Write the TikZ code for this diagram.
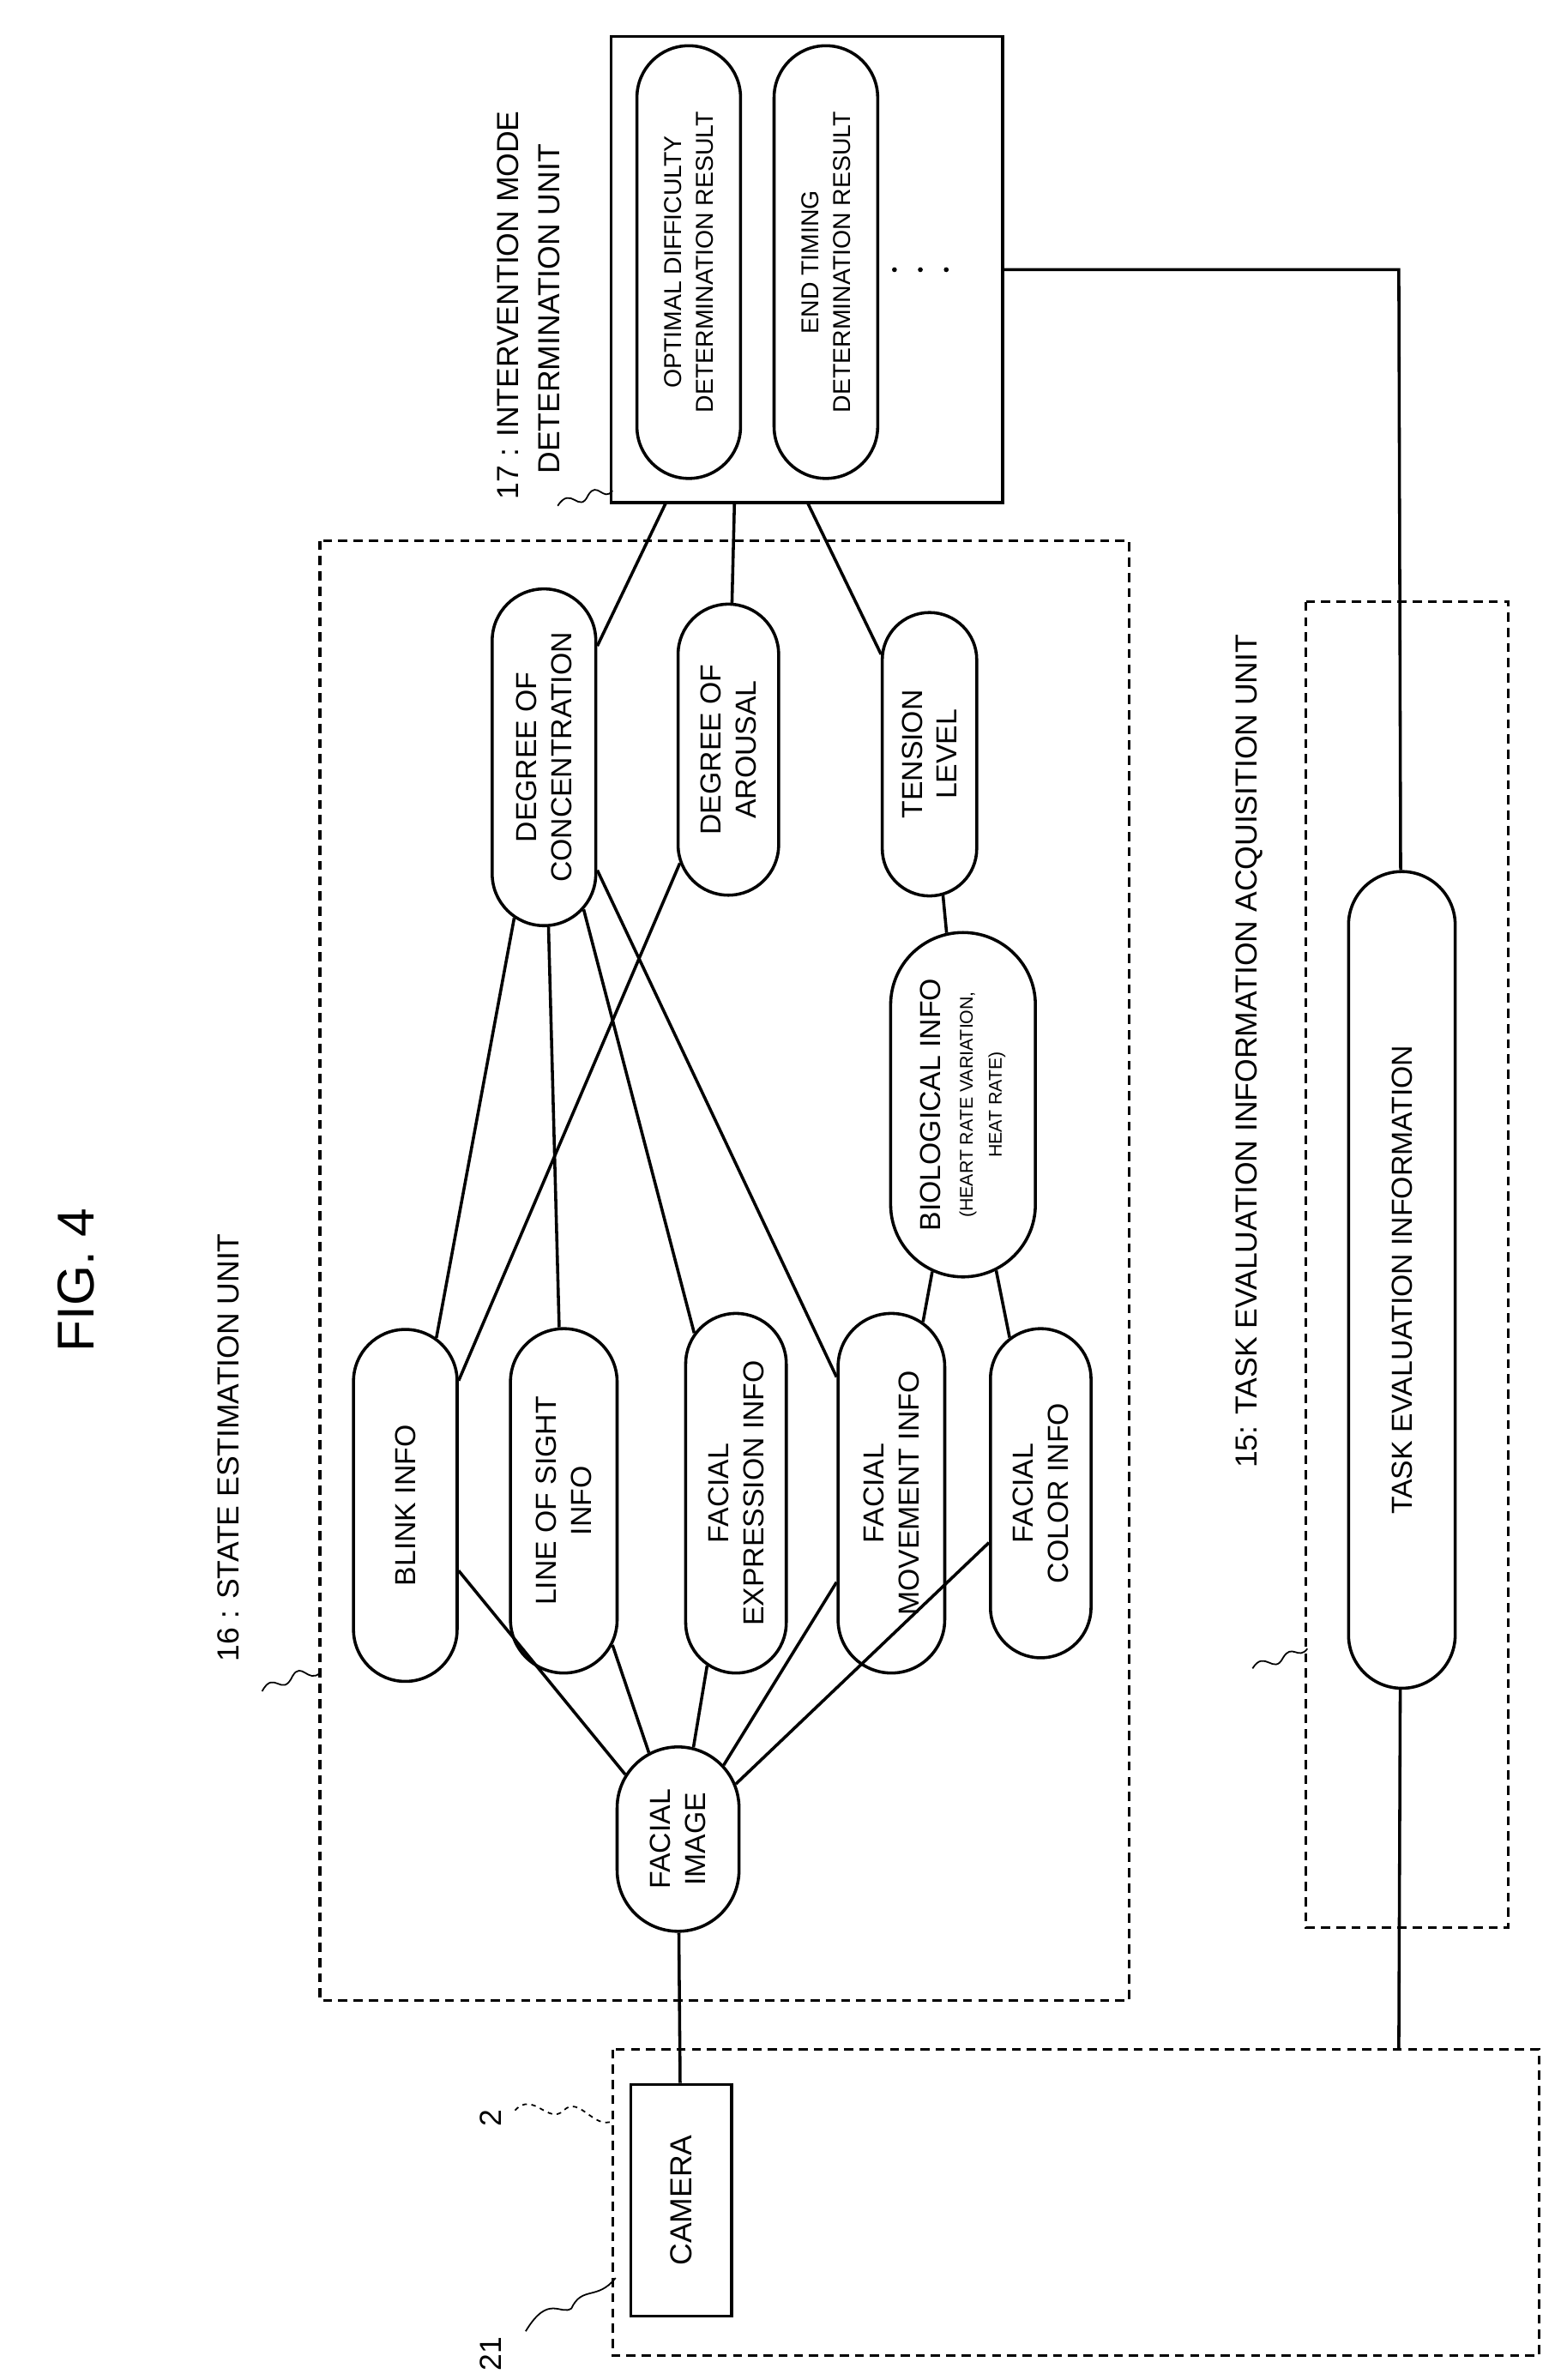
\documentclass[tikz,border=0pt]{standalone}
\usepackage{fontspec}
\setmainfont{Liberation Sans}
\usetikzlibrary{shapes.misc}
\begin{document}
\begin{tikzpicture}[x=1pt,y=-1pt,line width=2pt,
  st/.style={draw,rounded rectangle,rotate=90,align=center,font=\fontsize{19}{23}\selectfont,inner sep=2pt},
  box/.style={draw,rectangle,inner sep=0pt},
  dbox/.style={draw,dash pattern=on 6pt off 4pt,line width=1.8pt},
  lab/.style={rotate=90,font=\fontsize{20}{27}\selectfont,align=left},
  sq/.style={line width=1pt}]
\useasboundingbox (0,0) rectangle (1024,1562);
% labels
\node[lab,font=\fontsize{34}{38}\selectfont] (fig) at (50,840) {FIG. 4};
\node[lab] (l16) at (150,950) {16 : STATE ESTIMATION UNIT};
\node[lab,anchor=south west] (l17) at (372,332) {17 : INTERVENTION MODE\\\ \ \ DETERMINATION UNIT};
\node[lab] (l15) at (820,690) {15: TASK EVALUATION INFORMATION ACQUISITION UNIT};
\node[lab] (l2) at (322,1390) {2};
\node[lab] (l21) at (322,1545) {21};
% squiggles
\draw[sq] (172,1110) .. controls (180,1095) and (185,1115) .. (192,1100) .. controls (198,1090) and (202,1105) .. (210,1098);
\draw[sq] (366,332) .. controls (375,318) and (380,338) .. (386,325) .. controls (392,315) and (396,330) .. (402,322);
\draw[sq] (822,1095) .. controls (830,1082) and (836,1100) .. (842,1088) .. controls (848,1078) and (852,1090) .. (858,1082);
\draw[sq,dash pattern=on 3pt off 3pt] (338,1385) .. controls (350,1372) and (360,1395) .. (370,1385) .. controls (380,1375) and (390,1398) .. (402,1392);
\draw[sq] (345,1530) .. controls (360,1505) and (368,1520) .. (375,1515) .. controls (382,1500) and (392,1510) .. (404,1495);
% boxes
\draw[dbox] (210,355) rectangle (741,1313);
\draw[dbox] (857,395) rectangle (990,1265);
\draw[dbox] (402,1345) rectangle (1010,1546);
\node[box,minimum width=257pt,minimum height=306pt] (int) at (529.5,177) {};
\node[box,rotate=90,minimum width=152pt,minimum height=66pt,font=\fontsize{20}{24}\selectfont] (cam) at (447,1444) {CAMERA};
% intervention contents
\node[st,minimum width=288pt,minimum height=68pt,font=\fontsize{16}{21}\selectfont] (opt) at (452,172) {OPTIMAL DIFFICULTY\\DETERMINATION RESULT};
\node[st,minimum width=288pt,minimum height=68pt,font=\fontsize{16}{21}\selectfont] (end) at (542,172) {END TIMING\\DETERMINATION RESULT};
\fill (587,177) circle (1.6pt) (604,177) circle (1.6pt) (621,177) circle (1.6pt);
% nodes
\node[st,minimum width=125pt,minimum height=80pt] (face) at (445,1207) {FACIAL\\IMAGE};
\node[st,minimum width=235pt,minimum height=68pt] (blink) at (266,988) {BLINK INFO};
\node[st,minimum width=230pt,minimum height=70pt] (los) at (370,985) {LINE OF SIGHT\\INFO};
\node[st,minimum width=240pt,minimum height=66pt] (fexp) at (483,980) {FACIAL\\EXPRESSION INFO};
\node[st,minimum width=240pt,minimum height=70pt] (fmov) at (585,980) {FACIAL\\MOVEMENT INFO};
\node[st,minimum width=220pt,minimum height=66pt] (fcol) at (683,980) {FACIAL\\COLOR INFO};
\node[st,minimum width=230pt,minimum height=95pt] (bio) at (632,725) {BIOLOGICAL INFO\\[-2pt]{\fontsize{12}{15}\selectfont (HEART RATE VARIATION,}\\[-4pt]{\fontsize{12}{15}\selectfont HEAT RATE)}};
\node[st,minimum width=225pt,minimum height=68pt] (conc) at (357,497) {DEGREE OF\\CONCENTRATION};
\node[st,minimum width=195pt,minimum height=66pt] (arou) at (478,492) {DEGREE OF\\AROUSAL};
\node[st,minimum width=190pt,minimum height=62pt] (tens) at (610,495) {TENSION\\LEVEL};
\node[st,minimum width=540pt,minimum height=70pt] (task) at (920,840) {TASK EVALUATION INFORMATION};
% coordinates
\coordinate (i1) at (437,330);
\coordinate (i2) at (482,330);
\coordinate (i3) at (530,330);
\coordinate (ir) at (658,177);
\coordinate (c1) at (918,177);
\coordinate (c2) at (918,1345);
% connectors
\draw (face) -- (blink); \draw (face) -- (los); \draw (face) -- (fexp);
\draw (face) -- (fmov); \draw (face) -- (fcol);
\draw (face) -- (cam);
\draw (blink) -- (conc); \draw (los) -- (conc); \draw (fexp) -- (conc); \draw (fmov) -- (conc);
\draw (blink) -- (arou);
\draw (fmov) -- (bio); \draw (fcol) -- (bio); \draw (bio) -- (tens);
\draw (conc) -- (i1); \draw (arou) -- (i2); \draw (tens) -- (i3);
\draw (ir) -- (c1) -- (task);
\draw (task) -- (c2);
\end{tikzpicture}
\end{document}
